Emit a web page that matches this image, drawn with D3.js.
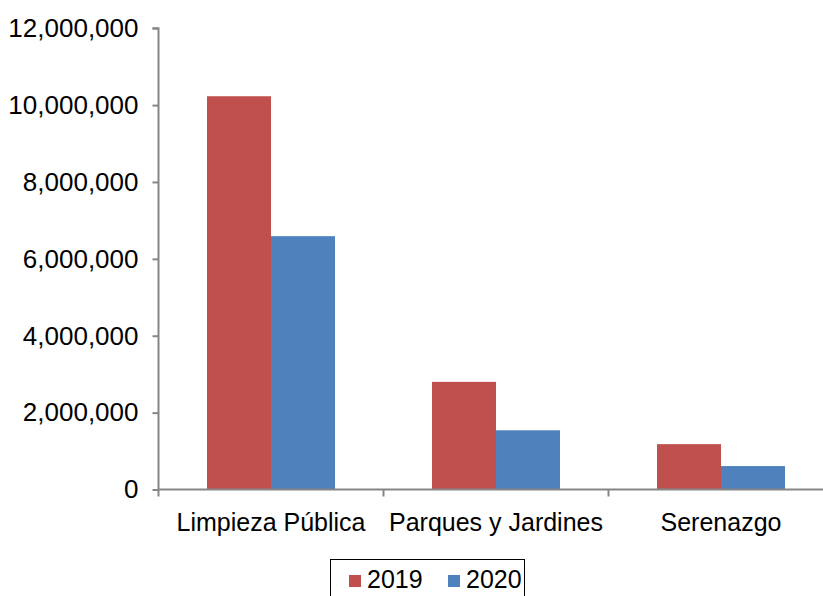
<!DOCTYPE html>
<html>
<head>
<meta charset="utf-8">
<script src="https://cdn.jsdelivr.net/npm/d3@7"></script>
<style>
  body { margin: 0; background: #fff; }
  text { font-family: "Liberation Sans", Arial, sans-serif; fill: #000; }
</style>
</head>
<body>
<svg id="chart" width="823" height="596"></svg>
<script>
const categories = ["Limpieza Pública", "Parques y Jardines", "Serenazgo"];
const seriesNames = ["2019", "2020"];
const values2019 = [10230000, 2800000, 1180000];
const values2020 = [6590000, 1540000, 610000];
const yTicks = [0, 2000000, 4000000, 6000000, 8000000, 10000000, 12000000];
const colors = ["#C0504D", "#4F81BD"];

(function () {
const svg = d3.select("#chart");
const mLeft = 158.5, mRight = 833.5, mTop = 28.2, mBottom = 489.5;

const x = d3.scaleBand().domain(categories).range([mLeft, mRight]).paddingInner(0).paddingOuter(0);
const barW = 64;
const xs = d3.scaleBand().domain(seriesNames).range([0, barW * 2]);
const y = d3.scaleLinear().domain([0, 12000000]).range([mBottom, mTop]);

const series = [values2019, values2020];
const data = [];
categories.forEach((c, i) => {
  seriesNames.forEach((s, j) => data.push({ c, s, v: series[j][i], j }));
});

const bandOffset = (x.bandwidth() - barW * 2) / 2;
svg.append("g").selectAll("rect").data(data).join("rect")
  .attr("x", d => x(d.c) + bandOffset + xs(d.s))
  .attr("y", d => y(d.v))
  .attr("width", xs.bandwidth())
  .attr("height", d => y(0) - y(d.v))
  .attr("fill", d => colors[d.j]);

// Y axis
const fmt = d3.format(",");
const yAxis = svg.append("g").attr("transform", `translate(${mLeft},0)`)
  .call(d3.axisLeft(y).tickValues(yTicks).tickFormat(fmt).tickSize(6).tickPadding(14));
yAxis.select(".domain").attr("stroke", "#868686").attr("stroke-width", 2).attr("d", `M-6,${mTop}H0V${mBottom}`);
yAxis.selectAll(".tick line").attr("stroke", "#868686").attr("stroke-width", 2);
yAxis.selectAll(".tick text").attr("font-size", 26).attr("fill", "#000").attr("font-family", "Liberation Sans, Arial, sans-serif");

// X axis
const xAxis = svg.append("g").attr("transform", `translate(0,${mBottom})`)
  .call(d3.axisBottom(x).tickSize(0).tickPadding(0));
xAxis.select(".domain").attr("stroke", "#868686").attr("stroke-width", 2).attr("d", `M${mLeft},0H823`);
xAxis.selectAll(".tick text").remove();
const bounds = categories.map(c => x(c)).concat([x(categories[categories.length - 1]) + x.bandwidth()]);
xAxis.append("g").selectAll("line").data(bounds).join("line")
  .attr("x1", d => d).attr("x2", d => d).attr("y1", 0).attr("y2", 7)
  .attr("stroke", "#868686").attr("stroke-width", 2);
svg.append("g").selectAll("text").data(categories).join("text")
  .attr("x", d => x(d) + x.bandwidth() / 2)
  .attr("y", 531)
  .attr("text-anchor", "middle")
  .attr("font-size", 25)
  .text(d => d);

// Legend
const lg = svg.append("g");
lg.append("rect").attr("x", 330.5).attr("y", 559.5).attr("width", 194).attr("height", 50)
  .attr("fill", "#fff").attr("stroke", "#000").attr("stroke-width", 1);
const legendX = [349, 448];
seriesNames.forEach((s, j) => {
  lg.append("rect").attr("x", legendX[j]).attr("y", 575).attr("width", 12).attr("height", 12).attr("fill", colors[j]);
  lg.append("text").attr("x", legendX[j] + 18).attr("y", 588).attr("font-size", 25).text(s);
});
})();
</script>
</body>
</html>
